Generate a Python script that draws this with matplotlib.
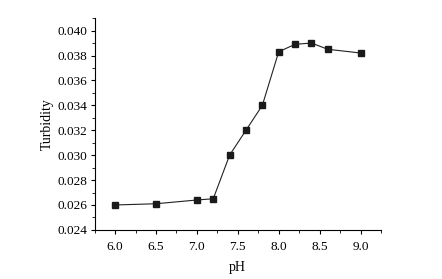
import numpy as np
import matplotlib
matplotlib.use("Agg")
import matplotlib.pyplot as plt
from matplotlib.ticker import MultipleLocator

plt.rcParams['font.family'] = ['Liberation Serif', 'DejaVu Serif']

ph = [6.0, 6.5, 7.0, 7.2, 7.4, 7.6, 7.8, 8.0, 8.2, 8.4, 8.6, 9.0]
turbidity = [0.0260, 0.0261, 0.0264, 0.0265, 0.0300, 0.0320, 0.0340,
             0.0383, 0.0389, 0.0390, 0.0385, 0.0382]

fig = plt.figure(figsize=(4.42, 2.79), dpi=100)
ax = fig.add_axes([0.214, 0.176, 0.648, 0.759])

ax.plot(ph, turbidity, color='#222222', lw=0.8, marker='s', ms=3.8,
        mfc='#1a1a1a', mec='#1a1a1a')

ax.set_xlim(5.75, 9.25)
ax.set_ylim(0.024, 0.041)
ax.xaxis.set_major_locator(MultipleLocator(0.5))
ax.xaxis.set_minor_locator(MultipleLocator(0.25))
ax.yaxis.set_major_locator(MultipleLocator(0.002))
ax.yaxis.set_minor_locator(MultipleLocator(0.001))
ax.xaxis.set_major_formatter(plt.FormatStrFormatter('%.1f'))
ax.yaxis.set_major_formatter(plt.FormatStrFormatter('%.3f'))

ax.spines['top'].set_visible(False)
ax.spines['right'].set_visible(False)
for s in ['left', 'bottom']:
    ax.spines[s].set_linewidth(0.8)

ax.tick_params(which='major', direction='out', length=3, width=0.8, labelsize=9.5, pad=2)
ax.tick_params(which='minor', direction='out', length=2, width=0.6)
ax.tick_params(axis='x', which='major', pad=5)

ax.set_xlabel('pH', fontsize=10, labelpad=6)
ax.set_ylabel('Turbidity', fontsize=10, labelpad=3)

fig.savefig('out.png', dpi=100)
